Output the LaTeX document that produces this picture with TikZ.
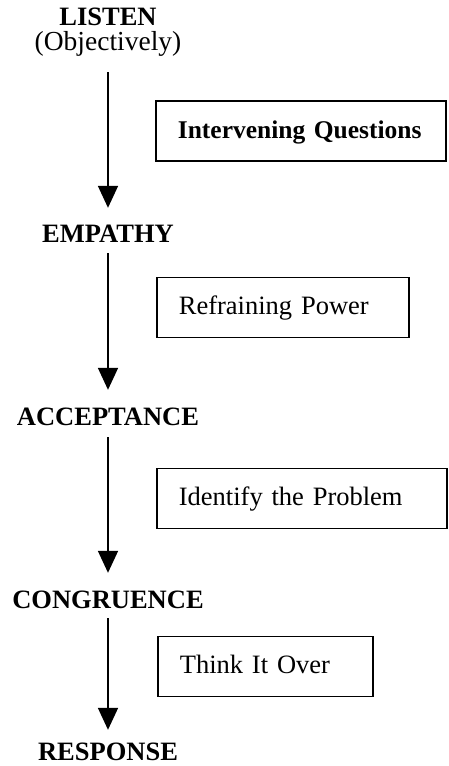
\documentclass[tikz,border=0pt]{standalone}
\usepackage{fontspec}
\setmainfont{Liberation Serif}
\usetikzlibrary{arrows.meta}

\begin{document}
\begin{tikzpicture}[x=1pt, y=-1pt,
        stage/.style={font=\fontsize{26.5}{30}\selectfont\bfseries, inner sep=0pt, anchor=base, text height=18pt, text depth=0pt},
        stepbox/.style={draw, line width=1.7pt, anchor=west, inner xsep=22pt, inner ysep=0pt, minimum height=60pt, text height=18pt, text depth=4pt, align=left, font=\fontsize{26.5}{30}\selectfont},
        arrow/.style={-{Triangle[length=22pt, width=20pt]}, line width=1.8pt}
    ]
        \useasboundingbox (0,0) rectangle (449,766);

        % Stages down the left side
        \node[stage] (listen) at (108,25) {LISTEN};
        \node[stage, font=\fontsize{27.5}{30}\selectfont, text depth=6pt] (objective) at (108,50) {(Objectively)};
        \node[stage] (empathy) at (108,242) {EMPATHY};
        \node[stage] (acceptance) at (108,425) {ACCEPTANCE};
        \node[stage] (congruence) at (108,608) {CONGRUENCE};
        \node[stage] (response) at (108,760) {RESPONSE};

        % Connect stages
        \draw[arrow, shorten <=16pt, shorten >=16pt] (objective.south) -- (objective.south |- empathy.north);
        \draw[arrow, shorten <=11pt, shorten >=17pt] (empathy.south) -- (empathy.south |- acceptance.north);
        \draw[arrow, shorten <=12pt, shorten >=17pt] (acceptance.south) -- (acceptance.south |- congruence.north);
        \draw[arrow, shorten <=10pt, shorten >=12pt] (congruence.south) -- (congruence.south |- response.north);

        % Boxes beside the arrows
        \node[stepbox, text width=246pt, font=\fontsize{25.5}{30}\selectfont\bfseries] (questions) at (155,131) {Intervening Questions};
        \node[stepbox, text width=208pt] (reframe) at (156,307.5) {Refraining Power};
        \node[stepbox, text width=246pt] (problem) at (156,498.5) {Identify the Problem};
        \node[stepbox, text width=171pt] (think) at (157,666.5) {Think It Over};
    \end{tikzpicture}
\end{document}
